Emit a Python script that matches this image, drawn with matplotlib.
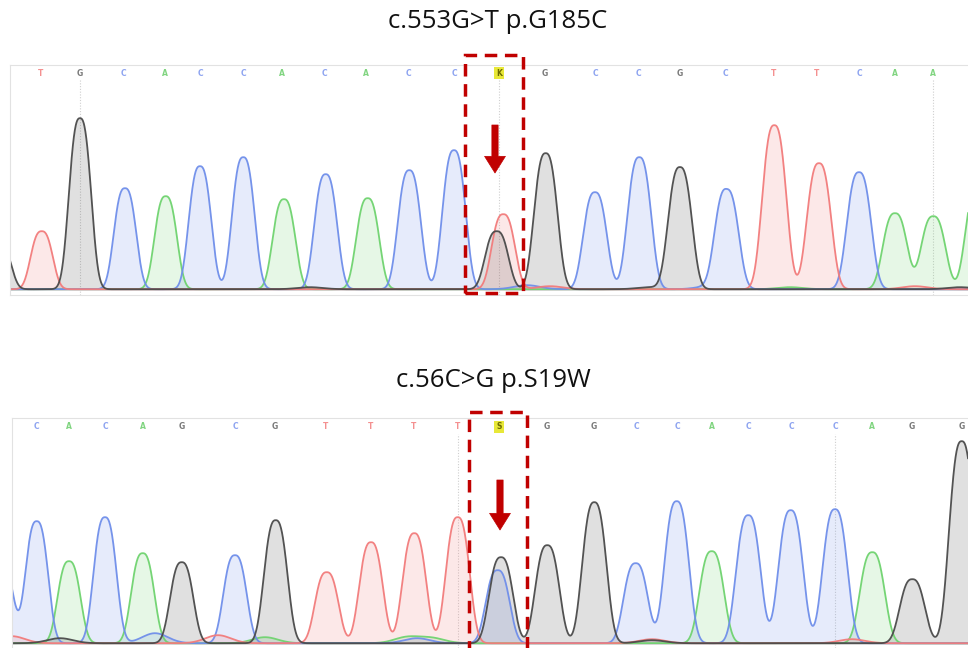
import numpy as np
import matplotlib
matplotlib.use("Agg")
import matplotlib.pyplot as plt
from matplotlib.patches import Rectangle
from matplotlib.transforms import blended_transform_factory

# ---- data: top read (c.553G>T) ----
top_title = "c.553G>T p.G185C"
top_calls = list("TGCACCACACCKGCCGCTTCAA")
top_call_pos = [31, 70, 113, 155, 190, 233, 272, 314, 356, 398, 444, 489,
                535, 585, 628, 670, 715, 764, 807, 849, 885, 923]
top_peak_base = list("GTGCACCACACCGTGCCGCTTCAAA")
top_peak_pos = [-10, 31.7, 70, 115, 155.7, 190, 233.3, 274, 315.7, 357.7, 399.3, 444,
                486.7, 493.3, 535.7, 585, 629.3, 670, 716.7, 764.3, 809, 849, 885, 923.3, 968]
top_peak_h = [45, 58, 171, 101, 93, 123, 132, 90, 115, 91, 119, 139,
              58, 75, 136, 97, 132, 122, 99, 164, 126, 117, 76, 73, 105]
top_minor_base = list("GCTGCTAG")
top_minor_pos = [300, 517, 540, 640, 700, 905, 780, 950]
top_minor_h = [2, 4, 3, 2, 3, 3, 2, 2]
top_variant = 11
top_guides = [1, 11, 21]

# ---- data: bottom read (c.56C>G) ----
bot_title = "c.56C>G p.S19W"
bot_calls = list("CACAGCGTTTTSGGCCACCCAGG")
bot_call_pos = [24, 57, 93, 131, 170, 223, 263, 314, 359, 402, 446, 487,
                535, 582, 624, 665, 700, 736, 779, 823, 860, 900, 950]
bot_peak_base = list("CCACAGCGTTTTCGGGCCACCCAGG")
bot_peak_pos = [-10, 24.7, 57, 93, 130.7, 169.7, 223, 263.7, 314.7, 359, 402.3, 445.7,
                485.7, 489, 535.3, 582.3, 623.7, 664.7, 699.7, 736.3, 778.7, 823, 860.3, 900.3, 949.7]
bot_peak_h = [80, 122, 82, 126, 90, 81, 88, 123, 71, 101, 110, 126,
              73, 86, 98, 141, 80, 142, 92, 128, 133, 134, 91, 64, 202]
bot_minor_base = list("TGCTAACATGT")
bot_minor_pos = [0, 48, 143, 206, 253, 395, 405, 420, 640, 640, 840]
bot_minor_h = [7, 5, 10, 8, 6, 6, 5, 5, 4, 3, 4]
bot_variant = 11
bot_guides = [10, 19]

line_col = {"A": "#6fd36f", "C": "#6f8eea", "G": "#4a4a4a", "T": "#f27b7b"}
label_col = {"A": "#7fd47f", "C": "#8ea4f0", "G": "#7a7a7a", "T": "#f49090"}
RED = "#c00000"


def peak(x, p, h, a, pw=2.7):
    return h * np.exp(-(np.abs(x - p) / a) ** pw)


def draw_read(ax, calls, call_pos, pbase, ppos, ph, mbase, mpos, mh,
              variant, guides, xlim, ylim, a0, a1, label_y):
    x = np.linspace(xlim[0], xlim[1], 3000)
    a = a0 + (a1 - a0) * (x - xlim[0]) / (xlim[1] - xlim[0])
    order = ["A", "C", "T", "G"]
    traces = {}
    for b in order:
        y = np.zeros_like(x) + 0.8
        for pb, p, h in zip(pbase, ppos, ph):
            if pb == b:
                y += peak(x, p, h, a)
        for pb, p, h in zip(mbase, mpos, mh):
            if pb == b:
                y += peak(x, p, h, 18.0, 2.0)
        traces[b] = y
    for b in order:
        ax.fill_between(x, 0, traces[b], color=line_col[b], alpha=0.17, lw=0)
    for b in order:
        ax.plot(x, traces[b], color=line_col[b], lw=1.3, alpha=0.95)

    tr = ax.get_xaxis_transform()
    for i in guides:
        ax.plot([call_pos[i], call_pos[i]], [0.0, label_y - 0.03], transform=tr,
                color="#cfcfcf", lw=0.8, ls=(0, (1, 1.5)), zorder=0)
    for i, (c, p) in enumerate(zip(calls, call_pos)):
        if i == variant:
            ax.text(p, label_y, c, transform=tr, ha="center", va="center",
                    fontsize=5.5, fontweight="bold", color="#6b6b00",
                    bbox=dict(boxstyle="square,pad=0.25", fc="#e8e838", ec="none"))
        else:
            ax.text(p, label_y, c, transform=tr, ha="center", va="center",
                    fontsize=5.5, fontweight="bold", color=label_col[c])

    ax.set_xlim(*xlim)
    ax.set_ylim(*ylim)
    ax.set_xticks([])
    ax.set_yticks([])
    for s in ax.spines.values():
        s.set_color("#e2e2e2")
        s.set_linewidth(0.8)
    ax.spines["right"].set_visible(False)


fig = plt.figure(figsize=(9.68, 6.48), dpi=100)
ax1 = fig.add_axes([10 / 968, 1 - 295 / 648, 958 / 968, 230 / 648])
ax2 = fig.add_axes([12 / 968, 0.0, 956 / 968, 230 / 648])

draw_read(ax1, top_calls, top_call_pos, top_peak_base, top_peak_pos, top_peak_h,
          top_minor_base, top_minor_pos, top_minor_h, top_variant, top_guides,
          (0, 958), (-5, 225), 13.5, 15.2, 0.965)
draw_read(ax2, bot_calls, bot_call_pos, bot_peak_base, bot_peak_pos, bot_peak_h,
          bot_minor_base, bot_minor_pos, bot_minor_h, bot_variant, bot_guides,
          (0, 956), (-4, 226), 14.0, 15.5, 0.961)
ax2.spines["bottom"].set_visible(False)

fig.text(498 / 968, 1 - 22 / 648, top_title, ha="center", va="center",
         fontsize=18.5, family=["Open Sans", "DejaVu Sans"], color="#111111")
fig.text(493 / 968, 1 - 380 / 648, bot_title, ha="center", va="center",
         fontsize=18.5, family=["Open Sans", "DejaVu Sans"], color="#111111")

# red dashed boxes and arrows around the variant calls
for ax, pos, dx0, dx1, y0, y1, ya, yb, ax_dx in [
        (ax1, top_call_pos[top_variant], -34, 24, 1 - 293 / 648, 1 - 55 / 648,
         1 - 125 / 648, 1 - 173 / 648, -4),
        (ax2, bot_call_pos[bot_variant], -30, 28, -0.02, 1 - 412 / 648,
         1 - 480 / 648, 1 - 530 / 648, 1)]:
    tr = blended_transform_factory(ax.transData, fig.transFigure)
    ax.add_patch(Rectangle((pos + dx0, y0), dx1 - dx0, y1 - y0, transform=tr,
                           fill=False, ec=RED, lw=2.5, ls=(0, (3.6, 2.2)),
                           clip_on=False, zorder=10))
    ax.annotate("", xy=(pos + ax_dx, yb), xycoords=tr,
                xytext=(pos + ax_dx, ya), textcoords=tr,
                arrowprops=dict(arrowstyle="simple,head_width=1.5,head_length=1.2,tail_width=0.45",
                                fc=RED, ec=RED, lw=0.5, shrinkA=0, shrinkB=0),
                zorder=11, annotation_clip=False)

fig.savefig("out.png", dpi=100)
